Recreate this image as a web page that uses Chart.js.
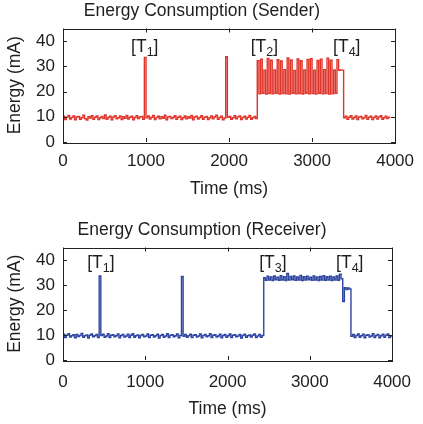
<!DOCTYPE html>
<html>
<head>
<meta charset="utf-8">
<style>
  body { margin: 0; background: #fff; }
  canvas { display: block; }
</style>
<script src="https://cdn.jsdelivr.net/npm/chart.js"></script>
</head>
<body>
<canvas id="senderChart" width="423" height="212"></canvas>
<canvas id="receiverChart" width="423" height="212"></canvas>

<script>
// sample spacing of both traces (ms)
var STEP_MS = 20;

// sender current, one reading every 20 ms from 0 ms
var senderMa = [
  9.4, 10.2, 8.9, 9.8, 10.5, 9.1, 9.7, 10.3, 8.8, 9.9,
  10.1, 9.0, 9.6, 10.6, 9.2, 8.7, 10.0, 9.5, 10.4, 9.0,
  9.8, 10.3, 8.9, 9.6, 10.1, 9.3, 10.7, 9.0, 9.7, 10.2,
  8.8, 9.9, 10.4, 9.2, 9.6, 10.3, 8.9, 10.0, 9.4, 10.5,
  9.1, 9.8, 10.2, 8.8, 9.7, 10.4, 9.3, 9.9, 10.1, 9.0,
  33.5, 9.6, 10.3, 9.1, 9.8, 10.5, 8.9, 9.7, 10.2, 9.2,
  10.0, 9.4, 10.6, 8.8, 9.9, 10.1, 9.3, 9.7, 10.4, 9.0,
  9.8, 10.2, 8.9, 9.6, 10.3, 9.2, 10.0, 9.5, 10.5, 8.8,
  9.9, 10.2, 9.1, 9.7, 10.4, 9.0, 9.8, 10.1, 8.9, 9.6,
  10.3, 9.2, 9.9, 10.6, 9.0, 9.7, 10.2, 8.8, 9.5, 33.8,
  9.8, 10.1, 9.0, 9.6, 10.4, 9.2, 9.9, 10.3, 8.9, 9.7,
  10.2, 9.1, 9.8, 10.5, 9.0, 9.6, 10.1, 9.3,
  32.2, 19.1, 32.8, 19.3, 28.5, 19.0, 33.1, 19.2, 32.4, 19.1,
  28.6, 19.3, 32.6, 19.0, 32.1, 19.2, 28.7, 19.1, 33.3, 19.0,
  32.5, 19.3, 28.4, 19.1, 32.9, 19.2, 32.2, 19.0, 28.6, 19.3,
  32.7, 19.1, 33.0, 19.2, 28.5, 19.0, 32.3, 19.3, 32.8, 19.1,
  28.7, 19.2, 33.2, 19.0, 32.4, 19.1, 28.6, 19.3, 32.6, 28.4,
  28.6, 28.5,
  9.6, 10.2, 9.0, 9.8, 10.4, 9.1, 9.7, 10.3, 8.9, 9.9,
  10.1, 9.2, 9.6, 10.5, 9.0, 9.8, 10.2, 8.9, 9.7, 10.3,
  9.1, 9.9, 10.4, 9.0, 9.6, 10.2, 9.3, 9.8
];

// receiver current, one reading every 20 ms from 0 ms
var receiverMa = [
  9.6, 10.3, 9.0, 9.9, 10.5, 9.2, 9.7, 10.1, 8.9, 10.2,
  9.4, 9.8, 10.6, 9.1, 9.7, 10.0, 8.8, 9.9, 10.4, 9.3,
  9.7, 10.2, 9.0, 33.6, 9.8, 10.3, 9.1, 9.6, 10.5, 9.0,
  9.9, 10.1, 9.3, 9.7, 10.4, 8.9, 9.8, 10.2, 9.2, 9.6,
  10.3, 9.0, 9.9, 10.5, 9.1, 9.7, 10.0, 8.9, 9.8, 10.2,
  9.3, 9.6, 10.4, 9.0, 9.9, 10.1, 9.2, 9.7, 10.3, 8.8,
  9.8, 10.2, 9.1, 9.6, 10.5, 9.0, 9.9, 10.1, 9.3, 9.7,
  10.4, 8.9, 9.8, 33.4, 9.5, 10.2, 9.1, 9.7, 10.3, 9.0,
  9.9, 10.1, 9.2, 9.6, 10.4, 8.9, 9.8, 10.2, 9.3, 9.7,
  10.5, 9.0, 9.9, 10.1, 9.2, 9.6, 10.3, 8.9, 9.8, 10.2,
  9.1, 9.7, 10.4, 9.0, 9.9, 10.1, 9.3, 9.6, 10.2, 8.8,
  9.8, 10.3, 9.1, 9.7, 10.0, 9.2, 9.9, 10.4, 9.0, 9.6,
  10.2, 9.1, 9.8,
  32.9, 31.9, 33.5, 32.0, 33.2, 31.8, 33.6, 32.1, 33.1, 31.9,
  33.7, 32.0, 33.3, 31.8, 34.6, 32.0, 33.4, 32.1, 33.6, 31.9,
  33.2, 32.0, 33.8, 31.8, 33.3, 32.0, 33.5, 32.1, 33.1, 31.9,
  33.6, 32.0, 33.2, 31.8, 33.4, 32.0, 33.7, 31.9, 33.3, 32.0,
  33.5, 31.8, 33.2, 32.0, 33.6, 31.9, 34.3, 32.5,
  23.4,
  28.9, 28.2, 28.8, 28.4,
  9.5, 10.2, 9.0, 9.8, 10.4, 9.1, 9.7, 10.3, 8.9, 9.9,
  10.1, 9.2, 9.6, 10.5, 9.0, 9.8, 10.2, 8.9, 9.7, 10.3,
  9.1, 9.9, 10.4, 9.0, 9.6
];

// event labels: [T<sub>] placed at time / level
var senderMarks = ['1', '2', '4'];
var senderMarkTime = [985, 2425, 3418];
var senderMarkLevel = [37.6, 37.6, 37.6];
var receiverMarks = ['1', '3', '4'];
var receiverMarkTime = [460, 2551, 3486];
var receiverMarkLevel = [38.6, 38.6, 38.6];

var xTicks = [0, 1000, 2000, 3000, 4000];
var yTicks = [0, 10, 20, 30, 40];

var TEXT = '#1e1e1e';
var FONT = 'Liberation Sans, Arial, Helvetica, sans-serif';

function toPoints(values) {
  return values.map(function(v, i) { return {x: i * STEP_MS, y: v}; });
}

// box around plot + inward ticks on all sides + [T] labels
var framePlugin = {
  id: 'frame',
  afterDatasetsDraw: function(chart) {
    var ctx = chart.ctx;
    var a = chart.chartArea;
    var xs = chart.scales.x, ys = chart.scales.y;
    ctx.save();
    ctx.strokeStyle = '#222';
    ctx.lineWidth = 1;
    ctx.beginPath();
    xTicks.forEach(function(t) {
      var px = Math.round(xs.getPixelForValue(t)) + 0.5;
      ctx.moveTo(px, a.bottom); ctx.lineTo(px, a.bottom - 4);
      ctx.moveTo(px, a.top); ctx.lineTo(px, a.top + 4);
    });
    yTicks.forEach(function(t) {
      var py = Math.round(ys.getPixelForValue(t)) + 0.5;
      ctx.moveTo(a.left, py); ctx.lineTo(a.left + 4, py);
      ctx.moveTo(a.right, py); ctx.lineTo(a.right - 4, py);
    });
    ctx.stroke();
    ctx.strokeRect(Math.round(a.left) + 0.5, Math.round(a.top) + 0.5,
                   Math.round(a.right - a.left), Math.round(a.bottom - a.top));

    var m = chart.options.plugins.frame;
    ctx.fillStyle = TEXT;
    ctx.textBaseline = 'middle';
    ctx.textAlign = 'left';
    m.subs.forEach(function(sub, i) {
      var cx = xs.getPixelForValue(m.times[i]);
      var cy = ys.getPixelForValue(m.levels[i]);
      ctx.font = '17.5px ' + FONT;
      var w1 = ctx.measureText('[T').width;
      var w3 = ctx.measureText(']').width;
      ctx.font = '12.5px ' + FONT;
      var w2 = ctx.measureText(sub).width;
      var x0 = cx - (w1 + w2 + w3) / 2;
      ctx.font = '17.5px ' + FONT;
      ctx.fillText('[T', x0, cy);
      ctx.font = '12.5px ' + FONT;
      ctx.fillText(sub, x0 + w1, cy + 5);
      ctx.font = '17.5px ' + FONT;
      ctx.fillText(']', x0 + w1 + w2, cy);
    });
    ctx.restore();
  }
};

function makeChart(id, title, values, color, marks, geo) {
  return new Chart(document.getElementById(id), {
    type: 'line',
    data: {
      datasets: [{
        data: toPoints(values),
        borderColor: color,
        borderWidth: 1.4,
        pointRadius: 0,
        stepped: 'after'
      }]
    },
    options: {
      responsive: false,
      animation: false,
      devicePixelRatio: 1,
      layout: {padding: {left: 0, right: 19, top: 0, bottom: 0}},
      plugins: {
        legend: {display: false},
        tooltip: {enabled: false},
        title: {
          display: true,
          text: title,
          color: TEXT,
          font: {family: FONT, size: 17.5, weight: 'normal'},
          padding: {top: geo.titleTop, bottom: geo.titleBottom}
        },
        frame: marks
      },
      scales: {
        x: {
          type: 'linear',
          min: 0,
          max: 4000,
          afterBuildTicks: function(s) { s.ticks = xTicks.map(function(v) { return {value: v}; }); },
          afterFit: function(s) { s.height = geo.xHeight; },
          grid: {display: false, drawTicks: false},
          border: {display: false},
          ticks: {color: TEXT, padding: geo.xPad, maxRotation: 0, font: {family: FONT, size: 17},
                  callback: function(v) { return String(v); }},
          title: {display: true, text: 'Time (ms)', color: TEXT,
                  font: {family: FONT, size: 17.5}, padding: {top: 0, bottom: geo.xTitlePad}}
        },
        y: {
          min: 0,
          max: 45,
          afterBuildTicks: function(s) { s.ticks = yTicks.map(function(v) { return {value: v}; }); },
          afterFit: function(s) { s.width = 63; },
          grid: {display: false, drawTicks: false},
          border: {display: false},
          ticks: {color: TEXT, padding: 8, font: {family: FONT, size: 17}},
          title: {display: true, text: 'Energy (mA)', color: TEXT,
                  font: {family: FONT, size: 17.5}, padding: {top: 5, bottom: 0}}
        }
      }
    },
    plugins: [framePlugin]
  });
}

makeChart('senderChart', 'Energy Consumption (Sender)', senderMa, '#e0352a',
  {subs: senderMarks, times: senderMarkTime, levels: senderMarkLevel},
  {titleTop: 0.5, titleBottom: 7, xHeight: 70, xPad: 9, xTitlePad: 12});

makeChart('receiverChart', 'Energy Consumption (Receiver)', receiverMa, '#2c44a0',
  {subs: receiverMarks, times: receiverMarkTime, levels: receiverMarkLevel},
  {titleTop: 8, titleBottom: 6.5, xHeight: 64, xPad: 12, xTitlePad: 4});
</script>
</body>
</html>
